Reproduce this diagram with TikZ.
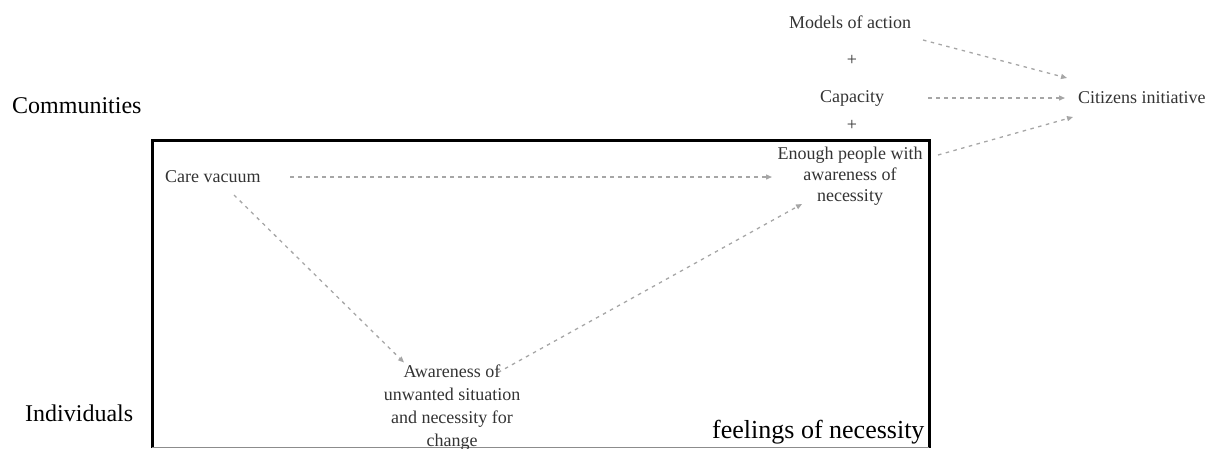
\documentclass[tikz,border=0pt]{standalone}
\usepackage{fontspec}
\setmainfont{Liberation Serif}
\usetikzlibrary{arrows.meta,calc}
\begin{document}
\begin{tikzpicture}[x=1pt,y=-1pt,
  lbl/.style={inner sep=0pt,text=black!80,font=\fontsize{18}{21}\selectfont,align=center},
  side/.style={inner sep=0pt,text=black,font=\fontsize{24}{28}\selectfont,anchor=west},
  conn/.style={draw=black!35,line width=1.3pt,dash pattern=on 3.5pt off 4.5pt,
    -{Triangle[length=6pt,width=5pt]}}
]
\useasboundingbox (0,0) rectangle (1213,448);
% frame
\draw[line width=3pt] (152,448) -- (152,140) -- (929,140) -- (929,448);
\draw[line width=1pt,black!45] (152,447) -- (929,447);

\node[side] (communities) at (12,106) {Communities};
\node[side] (individuals) at (25,413) {Individuals};
\node[side,font=\fontsize{26}{30}\selectfont] (feelings) at (712,432) {feelings of necessity};

\node[lbl] (models) at (850,22) {Models of action};
\node[lbl] (plusa) at (852,60) {+};
\node[lbl] (capacity) at (852,98) {Capacity};
\node[lbl] (plusb) at (852,125) {+};
\node[lbl] (enough) at (850,176) {Enough people with\\awareness of\\necessity};
\node[lbl,anchor=west] (citizens) at (1078,98) {Citizens initiative};
\node[lbl,anchor=west] (care) at (165,177) {Care vacuum};
\node[lbl,font=\fontsize{18}{23}\selectfont] (aware) at (452,407.5) {Awareness of\\unwanted situation\\and necessity for\\change};

\draw[conn] ($(models.center)+(73,18)$) -- ($(citizens.west)+(-11,-20)$);
\draw[conn] ($(capacity.center)+(76,0)$) -- ($(citizens.west)+(-13,0)$);
\draw[conn] ($(enough.center)+(88,-21)$) -- ($(citizens.west)+(-5,19)$);
\draw[conn] ($(care.west)+(125,0)$) -- ($(enough.center)+(-78,1)$);
\draw[conn] ($(care.west)+(69,18)$) -- ($(aware.center)+(-48,-45)$);
\draw[conn] ($(aware.center)+(46,-35)$) -- ($(enough.center)+(-48,28)$);
\end{tikzpicture}
\end{document}
